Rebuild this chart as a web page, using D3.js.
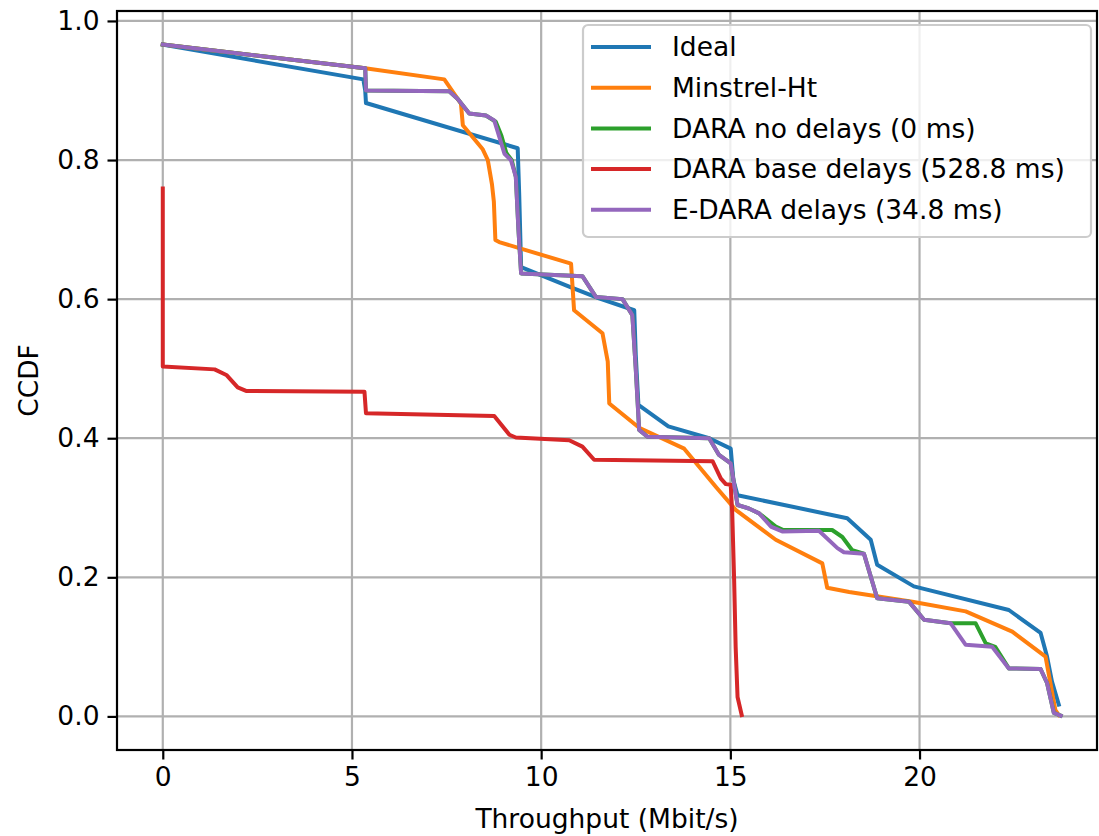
<!DOCTYPE html>
<html>
<head>
<meta charset="utf-8">
<script src="https://cdn.jsdelivr.net/npm/d3@7"></script>
<style>
  body { margin: 0; background: #fff; }
  svg text { font-family: "DejaVu Sans", sans-serif; }
</style>
</head>
<body>
<svg id="chart" width="1099" height="836"></svg>
<script>
// series (throughput in Mbit/s, CCDF)
const idealX = [0, 5.30, 5.35, 5.37, 9.38, 9.42, 9.47, 10.74, 11.53, 12.46, 12.50, 12.57, 13.36, 14.44, 15.01, 15.08, 15.19, 18.09, 18.71, 18.88, 19.85, 22.36, 23.20, 23.37, 23.50, 23.68];
const idealY = [0.966, 0.916, 0.900, 0.882, 0.817, 0.750, 0.646, 0.618, 0.601, 0.584, 0.520, 0.448, 0.417, 0.400, 0.385, 0.340, 0.318, 0.285, 0.254, 0.218, 0.187, 0.153, 0.120, 0.086, 0.050, 0.017];

const minstrelX = [0, 5.35, 7.44, 7.88, 7.93, 8.45, 8.59, 8.70, 8.75, 8.79, 8.89, 10.79, 10.87, 11.62, 11.76, 11.80, 12.59, 13.78, 14.62, 15.14, 16.20, 17.43, 17.56, 18.14, 19.81, 21.22, 22.45, 23.33, 23.59, 23.68];
const minstrelY = [0.966, 0.932, 0.916, 0.881, 0.850, 0.816, 0.800, 0.765, 0.740, 0.685, 0.682, 0.651, 0.584, 0.551, 0.510, 0.450, 0.415, 0.385, 0.330, 0.297, 0.254, 0.220, 0.185, 0.179, 0.165, 0.151, 0.122, 0.086, 0.009, 0.002];

const daraX = [0, 5.35, 5.37, 7.57, 7.79, 8.10, 8.54, 8.80, 8.95, 9.08, 9.22, 9.33, 9.40, 9.47, 11.09, 11.45, 12.15, 12.41, 12.50, 12.59, 12.81, 14.44, 14.70, 15.01, 15.19, 15.49, 15.76, 16.20, 16.40, 17.69, 17.96, 18.22, 18.53, 18.88, 19.72, 20.12, 20.82, 21.48, 21.75, 22.00, 22.36, 23.20, 23.37, 23.55, 23.73];
const daraY = [0.966, 0.932, 0.900, 0.899, 0.888, 0.867, 0.864, 0.855, 0.835, 0.810, 0.800, 0.776, 0.700, 0.637, 0.633, 0.603, 0.600, 0.577, 0.500, 0.412, 0.402, 0.400, 0.376, 0.364, 0.304, 0.299, 0.292, 0.273, 0.268, 0.268, 0.258, 0.239, 0.234, 0.170, 0.165, 0.139, 0.134, 0.134, 0.105, 0.100, 0.069, 0.068, 0.048, 0.005, 0.001];

const baseX = [0, 0, 1.37, 1.68, 1.98, 2.20, 5.33, 5.37, 8.76, 9.16, 9.33, 10.74, 11.09, 11.40, 14.53, 14.75, 14.88, 15.01, 15.05, 15.10, 15.14, 15.19, 15.30];
const baseY = [0.759, 0.503, 0.499, 0.491, 0.473, 0.468, 0.467, 0.436, 0.432, 0.405, 0.401, 0.397, 0.388, 0.369, 0.367, 0.342, 0.334, 0.333, 0.292, 0.196, 0.100, 0.028, 0.002];

const edaraX = [0, 5.35, 5.37, 7.57, 7.79, 8.10, 8.54, 8.76, 9.03, 9.20, 9.33, 9.40, 9.47, 11.09, 11.45, 12.15, 12.41, 12.50, 12.59, 12.81, 14.44, 14.70, 15.01, 15.19, 15.49, 15.76, 16.07, 16.37, 17.34, 17.83, 18.00, 18.53, 18.88, 19.72, 20.12, 20.82, 21.22, 21.92, 22.36, 23.20, 23.37, 23.55, 23.73];
const edaraY = [0.966, 0.932, 0.900, 0.899, 0.888, 0.867, 0.864, 0.857, 0.809, 0.800, 0.776, 0.700, 0.637, 0.633, 0.603, 0.600, 0.577, 0.500, 0.412, 0.402, 0.400, 0.376, 0.364, 0.304, 0.299, 0.292, 0.273, 0.266, 0.267, 0.242, 0.236, 0.234, 0.170, 0.165, 0.139, 0.134, 0.103, 0.100, 0.069, 0.068, 0.048, 0.005, 0.001];

const seriesNames = ["Ideal", "Minstrel-Ht", "DARA no delays (0 ms)", "DARA base delays (528.8 ms)", "E-DARA delays (34.8 ms)"];
const seriesColors = ["#1f77b4", "#ff7f0e", "#2ca02c", "#d62728", "#9467bd"];
const xTicks = [0, 5, 10, 15, 20];
const yTicks = [0, 0.2, 0.4, 0.6, 0.8, 1.0];

const series = [
    [idealX, idealY],
    [minstrelX, minstrelY],
    [daraX, daraY],
    [baseX, baseY],
    [edaraX, edaraY]
].map((s, i) => ({
    name: seriesNames[i],
    color: seriesColors[i],
    points: s[0].map((x, j) => ({x: x, y: s[1][j]}))
}));

const svg = d3.select("#chart");
const m = {left: 117, right: 1097, top: 11, bottom: 750};
const fontSize = 26.5;

const x = d3.scaleLinear().domain([-1.21, 24.69]).range([m.left, m.right]);
const y = d3.scaleLinear().domain([-0.0483, 1.0143]).range([m.bottom, m.top]);

// grid
svg.append("g").selectAll("line")
    .data(xTicks).enter().append("line")
    .attr("x1", d => x(d)).attr("x2", d => x(d))
    .attr("y1", m.top).attr("y2", m.bottom)
    .attr("stroke", "#b0b0b0").attr("stroke-width", 2.2);
svg.append("g").selectAll("line")
    .data(yTicks).enter().append("line")
    .attr("x1", m.left).attr("x2", m.right)
    .attr("y1", d => y(d)).attr("y2", d => y(d))
    .attr("stroke", "#b0b0b0").attr("stroke-width", 2.2);

// lines
const line = d3.line().x(d => x(d.x)).y(d => y(d.y));
const plot = svg.append("g");
series.forEach(s => {
    plot.append("path")
        .datum(s.points)
        .attr("fill", "none")
        .attr("stroke", s.color)
        .attr("stroke-width", 4)
        .attr("stroke-linejoin", "round")
        .attr("stroke-linecap", "square")
        .attr("d", line);
});

// axes
const xAxis = svg.append("g")
    .attr("transform", `translate(0,${m.bottom})`)
    .call(d3.axisBottom(x).tickValues(xTicks).tickFormat(d3.format("d")).tickSize(9.5).tickPadding(8));
const yAxis = svg.append("g")
    .attr("transform", `translate(${m.left},0)`)
    .call(d3.axisLeft(y).tickValues(yTicks).tickFormat(d3.format(".1f")).tickSize(9.5).tickPadding(8));

[xAxis, yAxis].forEach(a => {
    a.select(".domain").remove();
    a.selectAll("line").attr("stroke", "#000").attr("stroke-width", 2.2);
    a.selectAll("text")
        .style("font-size", fontSize + "px")
        .style("font-family", "DejaVu Sans")
        .attr("fill", "#000");
});

// frame
svg.append("rect")
    .attr("x", m.left).attr("y", m.top)
    .attr("width", m.right - m.left).attr("height", m.bottom - m.top)
    .attr("fill", "none").attr("stroke", "#000").attr("stroke-width", 2.2);

// axis labels
svg.append("text")
    .attr("x", (m.left + m.right) / 2).attr("y", 828)
    .attr("text-anchor", "middle")
    .style("font-size", fontSize + "px")
    .text("Throughput (Mbit/s)");
svg.append("text")
    .attr("transform", `translate(38,${(m.top + m.bottom) / 2}) rotate(-90)`)
    .attr("text-anchor", "middle")
    .style("font-size", fontSize + "px")
    .text("CCDF");

// legend
const legend = svg.append("g").attr("transform", "translate(583,25)");
legend.append("rect")
    .attr("width", 508).attr("height", 212)
    .attr("rx", 5)
    .attr("fill", "#fff").attr("fill-opacity", 0.8)
    .attr("stroke", "#cccccc").attr("stroke-width", 2.2);
series.forEach((s, i) => {
    const ly = 22 + i * 40.7;
    legend.append("line")
        .attr("x1", 8).attr("x2", 68)
        .attr("y1", ly).attr("y2", ly)
        .attr("stroke", s.color).attr("stroke-width", 4);
    legend.append("text")
        .attr("x", 89).attr("y", ly)
        .attr("dy", "0.35em")
        .style("font-size", fontSize + "px")
        .attr("fill", "#000")
        .text(s.name);
});
</script>
</body>
</html>
